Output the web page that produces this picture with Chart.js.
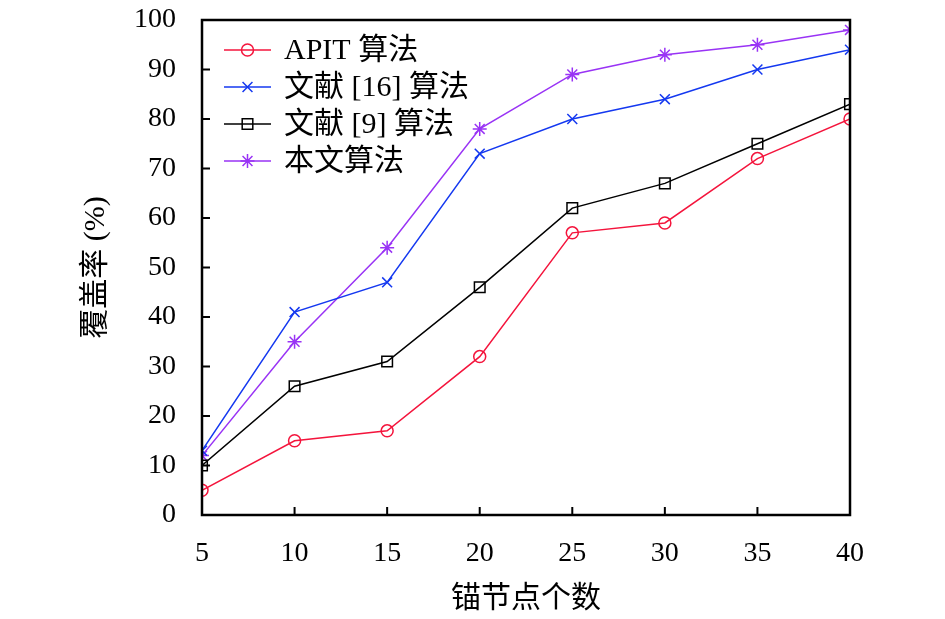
<!DOCTYPE html>
<html>
<head>
<meta charset="utf-8">
<script src="https://cdn.jsdelivr.net/npm/chart.js@4/dist/chart.umd.min.js"></script>
<style>
  body { margin: 0; background: #fff; }
  #wrap { width: 945px; height: 619px; }
</style>
</head>
<body>
<div id="wrap"><canvas id="coverChart" width="945" height="619"></canvas></div>
<script>
const anchors = [5, 10, 15, 20, 25, 30, 35, 40];
const apit = [5, 15, 17, 32, 57, 59, 72, 80];
const ref16 = [13, 41, 47, 73, 80, 84, 90, 94];
const ref9 = [10, 26, 31, 46, 62, 67, 75, 83];
const ours = [12, 35, 54, 78, 89, 93, 95, 98];
const seriesNames = ["APIT 算法", "文献 [16] 算法", "文献 [9] 算法", "本文算法"];

const serif = "'Liberation Serif', 'Noto Sans CJK SC', serif";

function toPoints(vals) {
  return vals.map((v, i) => ({ x: anchors[i], y: v }));
}

// frame, inward ticks and in-plot legend
const framePlugin = {
  id: "frame",
  afterDraw(chart) {
    const c = chart.ctx;
    const a = chart.chartArea;
    const xs = chart.scales.x;
    const ys = chart.scales.y;
    c.save();
    c.strokeStyle = "#000";
    c.lineWidth = 2.5;
    c.strokeRect(a.left, a.top, a.right - a.left, a.bottom - a.top);
    c.lineWidth = 2;
    c.beginPath();
    ys.ticks.forEach(t => {
      const py = ys.getPixelForValue(t.value);
      c.moveTo(a.left, py);
      c.lineTo(a.left + 8, py);
    });
    xs.ticks.forEach(t => {
      const px = xs.getPixelForValue(t.value);
      c.moveTo(px, a.bottom);
      c.lineTo(px, a.bottom - 8);
    });
    c.stroke();

    // legend
    c.font = "30px " + serif;
    c.textBaseline = "middle";
    chart.data.datasets.forEach((ds, i) => {
      const yy = a.top + 30 + i * 37;
      const x0 = a.left + 22, x1 = a.left + 69;
      c.strokeStyle = ds.borderColor;
      c.lineWidth = ds.borderWidth;
      c.beginPath();
      c.moveTo(x0, yy);
      c.lineTo(x1, yy);
      c.stroke();
      c.fillStyle = "rgba(0,0,0,0)";
      Chart.helpers.drawPoint(c, {
        pointStyle: ds.pointStyle,
        radius: ds.pointRadius,
        borderWidth: ds.pointBorderWidth,
        rotation: 0
      }, (x0 + x1) / 2, yy);
      c.fillStyle = "#000";
      c.fillText(ds.label, a.left + 82, yy + 1);
    });
    c.restore();
  }
};

function makeSet(label, vals, color, style, radius) {
  return {
    label: label,
    data: toPoints(vals),
    borderColor: color,
    backgroundColor: "rgba(0,0,0,0)",
    pointBackgroundColor: "rgba(0,0,0,0)",
    pointBorderColor: color,
    borderWidth: 1.5,
    pointBorderWidth: 1.5,
    pointStyle: style,
    pointRadius: radius,
    tension: 0
  };
}

const ctx = document.getElementById("coverChart");

var chart = new Chart(ctx, {
  type: "line",
  data: {
    datasets: [
      makeSet(seriesNames[0], apit, "#f4143c", "circle", 6),
      makeSet(seriesNames[1], ref16, "#1438f0", "crossRot", 7),
      makeSet(seriesNames[2], ref9, "#000000", "rect", 7.5),
      makeSet(seriesNames[3], ours, "#9933f5", "star", 7),
    ],
  },
  options: {
    responsive: false,
    animation: false,
    devicePixelRatio: 1,
    layout: { padding: { left: 78, right: 95, top: 20, bottom: 2 } },
    plugins: {
      legend: { display: false },
      tooltip: { enabled: false },
    },
    scales: {
      x: {
        type: "linear",
        min: 5,
        max: 40,
        ticks: { stepSize: 5, color: "#000", padding: 22, font: { family: serif, size: 28 } },
        grid: { display: false, drawTicks: false },
        border: { display: false },
        title: { display: true, text: "锚节点个数", color: "#000", padding: { top: 8, bottom: 0 }, font: { family: serif, size: 30 } },
        afterFit(s) { s.height = 102; s.paddingLeft = 0; s.paddingRight = 0; },
      },
      y: {
        min: 0,
        max: 100,
        ticks: { stepSize: 10, color: "#000", padding: 26, font: { family: serif, size: 28 } },
        grid: { display: false, drawTicks: false },
        border: { display: false },
        title: { display: true, text: "覆盖率 (%)", color: "#000", padding: 0, font: { family: serif, size: 30 } },
        afterFit(s) { s.width = 124; s.paddingTop = 0; s.paddingBottom = 0; },
      },
    },
  },
  plugins: [framePlugin],
});
</script>
</body>
</html>
